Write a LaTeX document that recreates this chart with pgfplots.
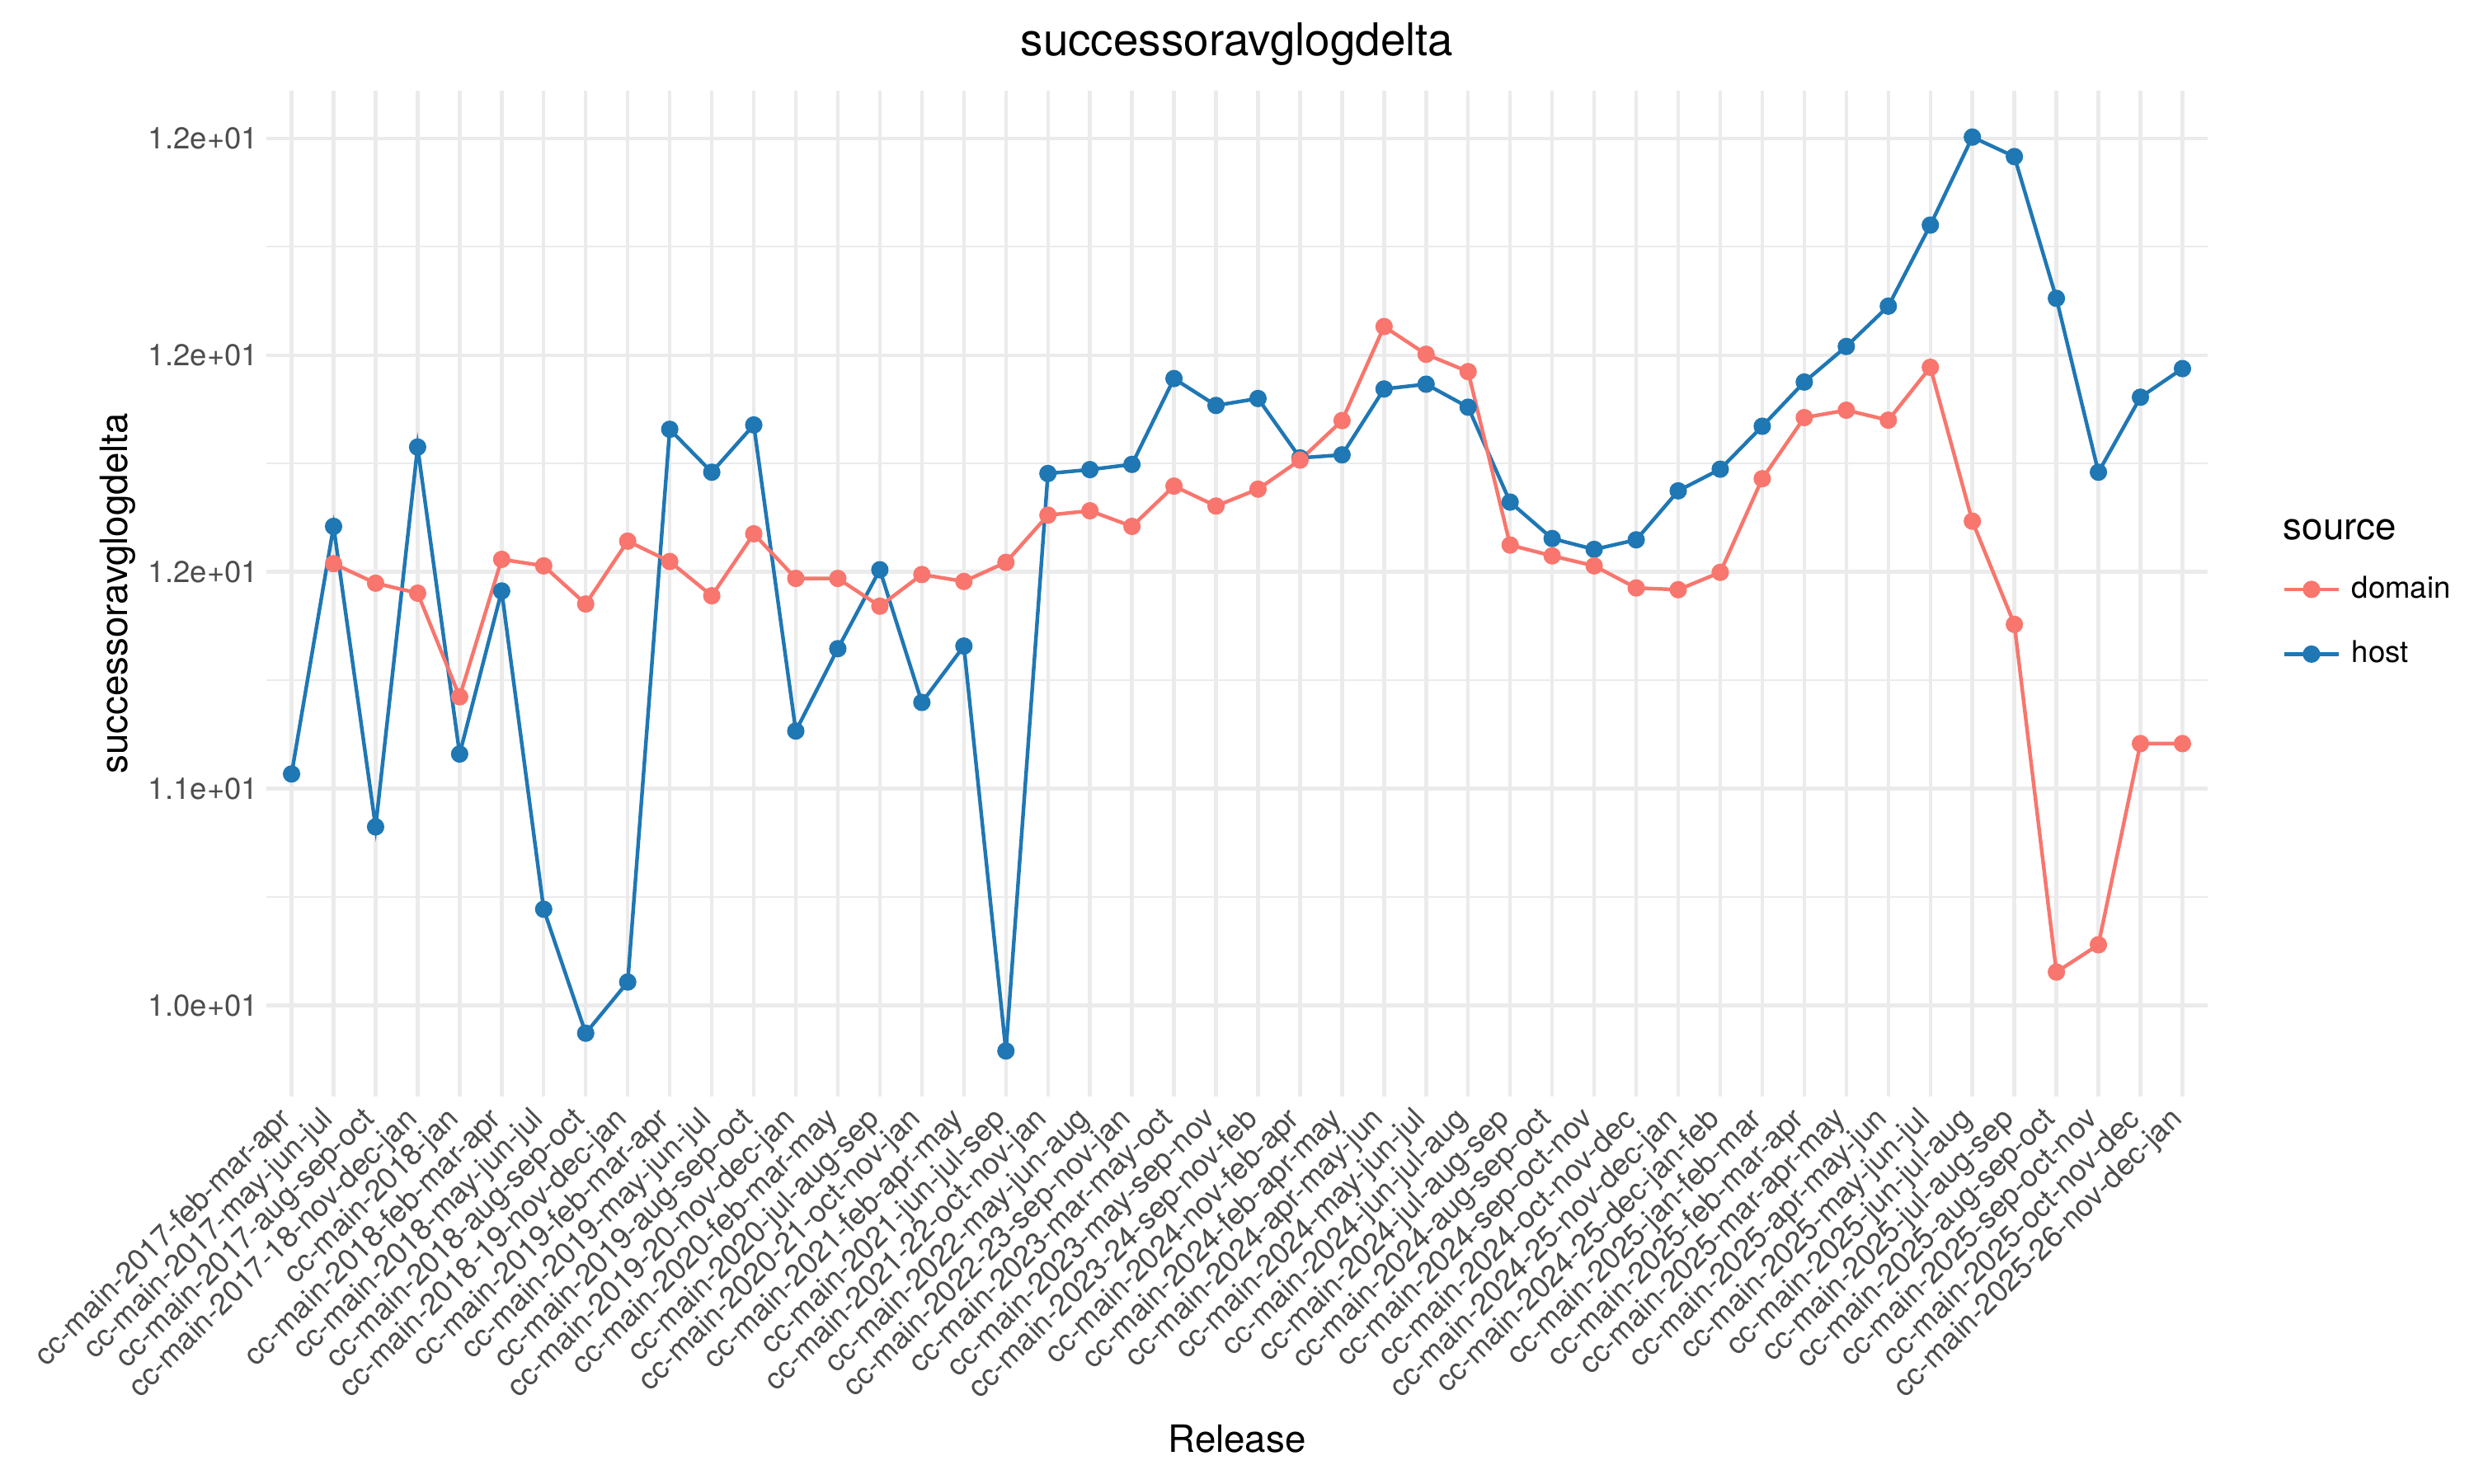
\documentclass[border=0pt]{standalone}
\usepackage{fontspec}
\setmainfont{TeX Gyre Heros}
\usepackage{pgfplots}
\pgfplotsset{compat=1.18}
\definecolor{domaincol}{HTML}{F8766D}
\definecolor{hostcol}{HTML}{1F77B4}
\definecolor{grid92}{HTML}{EBEBEB}
\definecolor{grey30}{HTML}{4D4D4D}
\begin{document}
\begin{tikzpicture}
\begin{axis}[
  scale only axis,
  width=567.1pt, height=293.9pt,
  xmin=-0.6, xmax=45.6, ymin=9.79, ymax=12.11,
  axis line style={draw=none},
  tick style={draw=none},
  major tick length=0pt, minor tick length=0pt,
  xtick={0,...,45},
  xticklabels={cc-main-2017-feb-mar-apr,cc-main-2017-may-jun-jul,cc-main-2017-aug-sep-oct,cc-main-2017-18-nov-dec-jan,cc-main-2018-jan,cc-main-2018-feb-mar-apr,cc-main-2018-may-jun-jul,cc-main-2018-aug-sep-oct,cc-main-2018-19-nov-dec-jan,cc-main-2019-feb-mar-apr,cc-main-2019-may-jun-jul,cc-main-2019-aug-sep-oct,cc-main-2019-20-nov-dec-jan,cc-main-2020-feb-mar-may,cc-main-2020-jul-aug-sep,cc-main-2020-21-oct-nov-jan,cc-main-2021-feb-apr-may,cc-main-2021-jun-jul-sep,cc-main-2021-22-oct-nov-jan,cc-main-2022-may-jun-aug,cc-main-2022-23-sep-nov-jan,cc-main-2023-mar-may-oct,cc-main-2023-may-sep-nov,cc-main-2023-24-sep-nov-feb,cc-main-2024-nov-feb-apr,cc-main-2024-feb-apr-may,cc-main-2024-apr-may-jun,cc-main-2024-may-jun-jul,cc-main-2024-jun-jul-aug,cc-main-2024-jul-aug-sep,cc-main-2024-aug-sep-oct,cc-main-2024-sep-oct-nov,cc-main-2024-oct-nov-dec,cc-main-2024-25-nov-dec-jan,cc-main-2024-25-dec-jan-feb,cc-main-2025-jan-feb-mar,cc-main-2025-feb-mar-apr,cc-main-2025-mar-apr-may,cc-main-2025-apr-may-jun,cc-main-2025-may-jun-jul,cc-main-2025-jun-jul-aug,cc-main-2025-jul-aug-sep,cc-main-2025-aug-sep-oct,cc-main-2025-sep-oct-nov,cc-main-2025-oct-nov-dec,cc-main-2025-26-nov-dec-jan},
  ytick={10,10.5,11,11.5,12},
  yticklabels={1.0e+01,1.1e+01,1.2e+01,1.2e+01,1.2e+01},
  minor ytick={10.25,10.75,11.25,11.75},
  every tick label/.append style={font=\fontsize{8.8}{10}\selectfont, text=grey30},
  xticklabel style={xshift=-4.3pt, yshift=-2.3pt, rotate=45, anchor=north east, inner sep=0pt},
  yticklabel style={anchor=east, inner sep=0pt, xshift=-2.2pt},
  xmajorgrids, ymajorgrids, yminorgrids,
  major grid style={grid92, line width=1.07pt},
  minor grid style={grid92, line width=0.53pt},
  clip=false,
  legend style={at={(1.0387,0.472)}, anchor=west, draw=none, fill=none,
    inner sep=0pt, outer sep=0pt, font=\fontsize{8.8}{10}\selectfont,
    row sep=11pt, column sep=3.4pt, nodes={inner sep=0pt}},
  legend cell align=left,
  legend image code/.code={\draw[mark repeat=2, mark phase=2, #1] plot coordinates {(0pt,0pt) (7.85pt,0pt) (15.7pt,0pt)};},
  reverse legend,
]
\path[draw=none] (axis description cs:-0.13721,-0.38525) rectangle (axis description cs:1.13721,1.09016);

\addplot[hostcol, line width=1.07pt, mark=*, mark size=2pt, mark options={solid, fill=hostcol, draw=none}] coordinates {
(0,10.534) (1,11.105) (2,10.412) (3,11.288) (4,10.580) (5,10.956) (6,10.222) (7,9.936) (8,10.054) (9,11.329)
(10,11.230) (11,11.339) (12,10.633) (13,10.823) (14,11.005) (15,10.699) (16,10.829) (17,9.895) (18,11.227) (19,11.236)
(20,11.248) (21,11.446) (22,11.384) (23,11.400) (24,11.263) (25,11.270) (26,11.422) (27,11.433) (28,11.380) (29,11.161)
(30,11.077) (31,11.052) (32,11.074) (33,11.187) (34,11.237) (35,11.336) (36,11.438) (37,11.520) (38,11.613) (39,11.800)
(40,12.003) (41,11.958) (42,11.631) (43,11.230) (44,11.403) (45,11.469)
};
\addplot[domaincol, line width=1.07pt, mark=*, mark size=2pt, mark options={solid, fill=domaincol, draw=none}] coordinates {
(1,11.019) (2,10.974) (3,10.951) (4,10.712) (5,11.029) (6,11.014) (7,10.926) (8,11.071) (9,11.024)
(10,10.945) (11,11.088) (12,10.985) (13,10.985) (14,10.921) (15,10.994) (16,10.978) (17,11.022) (18,11.131) (19,11.141)
(20,11.105) (21,11.198) (22,11.152) (23,11.191) (24,11.258) (25,11.349) (26,11.566) (27,11.502) (28,11.462) (29,11.062)
(30,11.037) (31,11.014) (32,10.963) (33,10.959) (34,10.999) (35,11.215) (36,11.356) (37,11.373) (38,11.350) (39,11.472)
(40,11.117) (41,10.879) (42,10.077) (43,10.140) (44,10.604) (45,10.604)
};
\legend{host,domain}

\node[font=\fontsize{13.2}{15}\selectfont] at (axis description cs:0.5,1.046) {successoravglogdelta};
\node[font=\fontsize{11}{13}\selectfont, rotate=90] at (axis description cs:-0.0765,0.5) {successoravglogdelta};
\node[font=\fontsize{11}{13}\selectfont] at (axis description cs:0.5,-0.340) {Release};
\node[font=\fontsize{11}{13}\selectfont, anchor=west, inner sep=0pt] at (axis description cs:1.0387,0.5631) {source};
\end{axis}
\end{tikzpicture}
\end{document}
